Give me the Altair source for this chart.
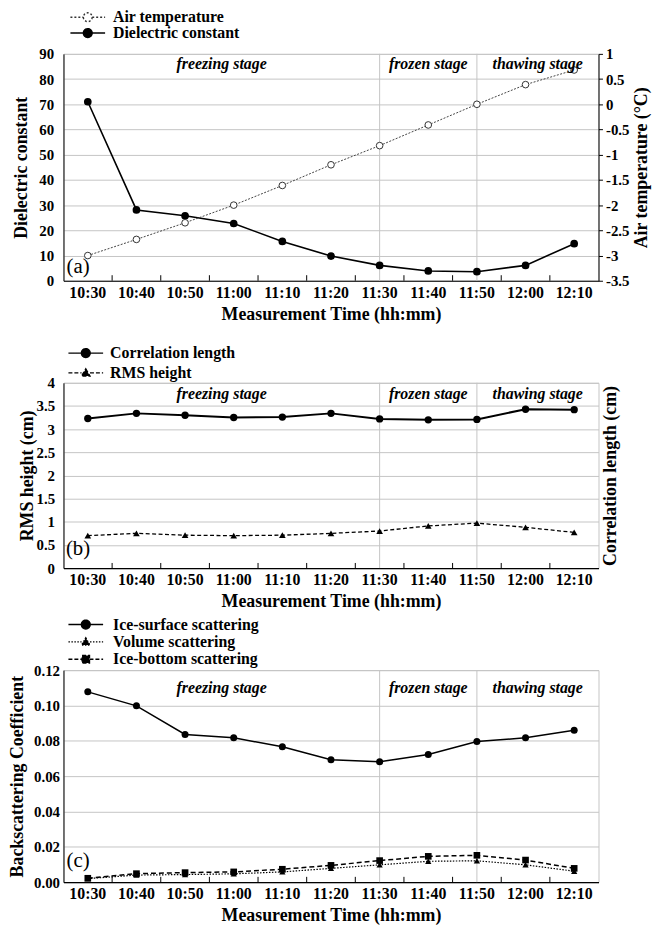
import math
import altair as alt
import pandas as pd

# ---------------- data ----------------
times = ["10:30", "10:40", "10:50", "11:00", "11:10", "11:20",
         "11:30", "11:40", "11:50", "12:00", "12:10"]
dielectric = [71.0, 28.1, 25.8, 22.7, 15.6, 9.8, 6.1, 3.9, 3.6, 6.1, 14.7]
air_temp = [-3.0, -2.68, -2.35, -2.0, -1.61, -1.2, -0.82, -0.41, 0.0, 0.39, 0.68]
corr_length = [3.23, 3.34, 3.30, 3.25, 3.26, 3.34, 3.22, 3.20, 3.21, 3.43, 3.42]
rms_height = [0.70, 0.75, 0.71, 0.70, 0.71, 0.75, 0.80, 0.91, 0.97, 0.88, 0.77]
ice_surface = [0.1077, 0.0998, 0.0836, 0.0817, 0.0766, 0.0693, 0.0681, 0.0723, 0.0796, 0.0817, 0.0860]
volume_sc = [0.0020, 0.0040, 0.0043, 0.0047, 0.0058, 0.0078, 0.0098, 0.0118, 0.0121, 0.0098, 0.0062]
ice_bottom = [0.0022, 0.0048, 0.0054, 0.0058, 0.0073, 0.0095, 0.0122, 0.0146, 0.0152, 0.0125, 0.0078]
stage_names = ["freezing stage", "frozen stage", "thawing stage"]
stage_bounds = ["11:30", "11:50"]
panel_letters = ["(a)", "(b)", "(c)"]

# ---------------- style ----------------
FONT = "Liberation Serif"
GRID = "#c4c4c4"
W = 540
n = len(times)

# stage label positions (band units) derived from the boundary categories
edges = [0.0] + [times.index(b) + 0.5 for b in stage_bounds] + [float(n)]
stage_mid = [(edges[i] + edges[i + 1]) / 2 for i in range(len(stage_names))]

x_axis = alt.Axis(title="Measurement Time (hh:mm)", labelAngle=0, ticks=False, grid=False,
                  labelPadding=4, titlePadding=5, labelFontSize=16,
                  domainColor="black", domainWidth=1.2, labelOverlap=False)
x_scale = alt.Scale(type="band", domain=times, paddingInner=0, paddingOuter=0)


def X(**kw):
    return alt.X("time:N", scale=x_scale, axis=x_axis, **kw)


def poly_circle(r, k=16):
    pts = [(r * math.cos(2 * math.pi * i / k), r * math.sin(2 * math.pi * i / k)) for i in range(k)]
    return "M" + "L".join(f"{x:.3f},{y:.3f}" for x, y in pts) + "Z"


def sym(marker, gap):
    return f"M-3.5,0L{-gap},0M{gap},0L3.5,0" + marker


CIRC = sym(poly_circle(0.9), 0.9)
TRI = sym("M0,-0.8L0.85,0.65L-0.85,0.65Z", 0.85)
SQR = sym("M-0.75,-0.75L0.75,-0.75L0.75,0.75L-0.75,0.75Z", 0.75)


def legend_layer(names, shapes, fills, strokes, dashes, lx, ly, lo, rp):
    leg = alt.Legend(title=None, orient="none", legendX=lx, legendY=ly, symbolSize=100,
                     labelFont=FONT, labelFontSize=16, labelFontWeight="bold",
                     labelColor="black", labelOffset=lo, rowPadding=rp, padding=0,
                     symbolStrokeWidth=1.4, direction="vertical", labelLimit=300)
    df = pd.DataFrame({"series": names})
    return alt.Chart(df).mark_point(opacity=1).encode(
        shape=alt.Shape("series:N", scale=alt.Scale(domain=names, range=shapes), legend=leg),
        fill=alt.Fill("series:N", scale=alt.Scale(domain=names, range=fills), legend=leg),
        stroke=alt.Stroke("series:N", scale=alt.Scale(domain=names, range=strokes), legend=leg),
        strokeDash=alt.StrokeDash("series:N", scale=alt.Scale(domain=names, range=dashes), legend=leg),
    ).transform_filter("false")


def text_layers(ydomain, stage_y, letter, letter_y):
    xs = alt.Scale(domain=[0, n], nice=False, zero=False)
    ys = alt.Scale(domain=ydomain, nice=False, zero=False)
    sdf = pd.DataFrame({"label": stage_names, "pos": stage_mid, "yv": [stage_y] * len(stage_names)})
    ldf = pd.DataFrame({"label": [letter], "pos": [0.3], "yv": [letter_y]})
    st = alt.Chart(sdf).mark_text(font=FONT, fontSize=16, fontWeight="bold", fontStyle="italic",
                                  color="black", baseline="middle").encode(
        x=alt.X("pos:Q", scale=xs, axis=None), y=alt.Y("yv:Q", scale=ys, axis=None), text="label:N")
    lt = alt.Chart(ldf).mark_text(font=FONT, fontSize=21, fontWeight="normal",
                                  color="black", baseline="middle").encode(
        x=alt.X("pos:Q", scale=xs, axis=None), y=alt.Y("yv:Q", scale=ys, axis=None), text="label:N")
    return alt.layer(st, lt)


def vrules():
    return alt.Chart(pd.DataFrame({"time": stage_bounds})).mark_rule(
        color=GRID, strokeWidth=1).encode(x=X())


def xticks(tick_len, yscale, yaxis):
    # small inward tick marks on the band boundaries of the time axis
    tdf = pd.DataFrame({"time": times[1:], "t0": 0.0, "t1": tick_len})
    return alt.Chart(tdf).mark_rule(color="black", strokeWidth=1).encode(
        x=X(bandPosition=0), y=alt.Y("t0:Q", scale=yscale, axis=yaxis), y2="t1:Q")


neg_fix = "datum.value < 0 ? '-' + format(-datum.value, '~g') : format(datum.value, '~g')"

# ---------------- panel (a) ----------------
dfa = pd.DataFrame({"time": times, "dielectric": dielectric, "air": air_temp})
ya_scale = alt.Scale(domain=[0, 90], nice=False, zero=False)
ya_axis = alt.Axis(title="Dielectric constant", values=list(range(0, 91, 10)),
                   labelExpr="format(datum.value, 'd')", labelOverlap=False,
                   grid=True, ticks=False, labelPadding=10, titlePadding=8)
ya = alt.Y("dielectric:Q", scale=ya_scale, axis=ya_axis)
left_a = alt.layer(
    vrules(),
    alt.Chart(dfa).mark_line(color="black", strokeWidth=1.6).encode(x=X(), y=ya),
    alt.Chart(dfa).mark_circle(size=60, color="black", opacity=1).encode(x=X(), y=ya),
    xticks(2.2, ya_scale, ya_axis),
)
yr_axis = alt.Axis(title="Air temperature (°C)", orient="right",
                   values=[-3.5, -3, -2.5, -2, -1.5, -1, -0.5, 0, 0.5, 1],
                   labelExpr=neg_fix, labelOverlap=False, grid=False, ticks=True, tickSize=4,
                   tickColor="black", labelPadding=3, titlePadding=4, titleAngle=270,
                   titleBaseline="top")
yr = alt.Y("air:Q", scale=alt.Scale(domain=[-3.5, 1], nice=False, zero=False), axis=yr_axis)
right_a = alt.layer(
    alt.Chart(dfa).mark_line(color="#444444", strokeWidth=1, strokeDash=[2, 1.5]).encode(x=X(), y=yr),
    alt.Chart(dfa).mark_point(shape="circle", size=45, filled=True, fill="white", stroke="#333333",
                              strokeWidth=1, opacity=1).encode(x=X(), y=yr),
)
inner_a = alt.layer(left_a, right_a).resolve_scale(y="independent")
legend_a = legend_layer(["Air temperature", "Dielectric constant"], [CIRC, CIRC],
                        ["white", "black"], ["#333333", "black"], [[2, 2], [1, 0]],
                        16.5, -45, 17.5, 0)
panel_a = alt.layer(inner_a, text_layers([0, 90], 86, panel_letters[0], 5.5), legend_a).resolve_scale(
    x="independent", y="independent").properties(width=W, height=229)

# ---------------- panel (b) ----------------
dfb = pd.DataFrame({"time": times, "corr": corr_length, "rms": rms_height})
yb_scale = alt.Scale(domain=[0, 4], nice=False, zero=False)
yb_axis = alt.Axis(title="RMS height (cm)", values=[0, 0.5, 1, 1.5, 2, 2.5, 3, 3.5, 4],
                   labelExpr="format(datum.value, '~g')", labelOverlap=False,
                   grid=True, ticks=False, labelPadding=9, titlePadding=0)
yb = alt.Y("rms:Q", scale=yb_scale, axis=yb_axis)
left_b = alt.layer(
    vrules(),
    alt.Chart(dfb).mark_line(color="black", strokeWidth=1.3, strokeDash=[4, 2.5]).encode(x=X(), y=yb),
    alt.Chart(dfb).mark_point(shape="triangle-up", size=45, filled=True, color="black", opacity=1).encode(x=X(), y=yb),
    xticks(0.11, yb_scale, yb_axis),
)
ybr_axis = alt.Axis(title="Correlation length (cm)", orient="right", labels=False, ticks=False,
                    domain=False, grid=False, titlePadding=3, titleAngle=270, titleBaseline="top")
ybr = alt.Y("corr:Q", scale=alt.Scale(domain=[0, 4], nice=False, zero=False), axis=ybr_axis)
right_b = alt.layer(
    alt.Chart(dfb).mark_line(color="black", strokeWidth=2).encode(x=X(), y=ybr),
    alt.Chart(dfb).mark_circle(size=55, color="black", opacity=1).encode(x=X(), y=ybr),
)
inner_b = alt.layer(left_b, right_b).resolve_scale(y="independent")
legend_b = legend_layer(["Correlation length", "RMS height"], [CIRC, TRI],
                        ["black", "black"], ["black", "black"], [[1, 0], [4, 2]],
                        14.5, -38, 16.5, 4)
panel_b = alt.layer(inner_b, text_layers([0, 4], 3.76, panel_letters[1], 0.42), legend_b).resolve_scale(
    x="independent", y="independent").properties(width=W, height=187)

# ---------------- panel (c) ----------------
dfc = pd.DataFrame({"time": times, "surface": ice_surface, "volume": volume_sc, "bottom": ice_bottom})
yc_axis = alt.Axis(title="Backscattering Coefficient", values=[0, 0.02, 0.04, 0.06, 0.08, 0.10, 0.12],
                   labelExpr="format(datum.value, '.2f')", labelOverlap=False,
                   grid=True, ticks=False, labelPadding=4, titlePadding=7)
yc_scale = alt.Scale(domain=[0, 0.12], nice=False, zero=False)


def yc(f):
    return alt.Y(f"{f}:Q", scale=yc_scale, axis=yc_axis)


inner_c = alt.layer(
    vrules(),
    alt.Chart(dfc).mark_line(color="black", strokeWidth=1.2, strokeDash=[1.5, 1.5]).encode(x=X(), y=yc("volume")),
    alt.Chart(dfc).mark_point(shape="triangle-up", size=40, filled=True, color="black", opacity=1).encode(x=X(), y=yc("volume")),
    alt.Chart(dfc).mark_line(color="black", strokeWidth=1.5, strokeDash=[5, 3]).encode(x=X(), y=yc("bottom")),
    alt.Chart(dfc).mark_point(shape="square", size=45, filled=True, color="black", opacity=1).encode(x=X(), y=yc("bottom")),
    alt.Chart(dfc).mark_line(color="black", strokeWidth=1.5).encode(x=X(), y=yc("surface")),
    alt.Chart(dfc).mark_circle(size=50, color="black", opacity=1).encode(x=X(), y=yc("surface")),
    xticks(0.003, yc_scale, yc_axis),
)
legend_c = legend_layer(["Ice-surface scattering", "Volume scattering", "Ice-bottom scattering"],
                        [CIRC, TRI, SQR], ["black"] * 3, ["black"] * 3,
                        [[1, 0], [1.5, 1.5], [4, 2]], 14.5, -54, 19.5, 1.5)
panel_c = alt.layer(inner_c, text_layers([0, 0.12], 0.110, panel_letters[2], 0.012), legend_c).resolve_scale(
    x="independent", y="independent").properties(width=W, height=214)

# ---------------- assemble ----------------
chart = alt.vconcat(panel_a, panel_b, panel_c, spacing=103, bounds="flush").resolve_scale(
    shape="independent", fill="independent", stroke="independent", strokeDash="independent"
).properties(
    padding={"left": 0, "top": -4, "right": 0, "bottom": 0},
    background="white",
).configure_view(
    stroke=GRID, strokeWidth=1
).configure_axis(
    labelFont=FONT, titleFont=FONT, labelFontWeight="bold", titleFontWeight="bold",
    labelColor="black", titleColor="black", labelFontSize=15, titleFontSize=18,
    domainColor="black", gridColor=GRID, gridWidth=1
).configure_legend(
    labelFont=FONT
).configure_text(
    font=FONT
)

chart.save("out.html", embed_options={"renderer": "svg", "actions": False})
